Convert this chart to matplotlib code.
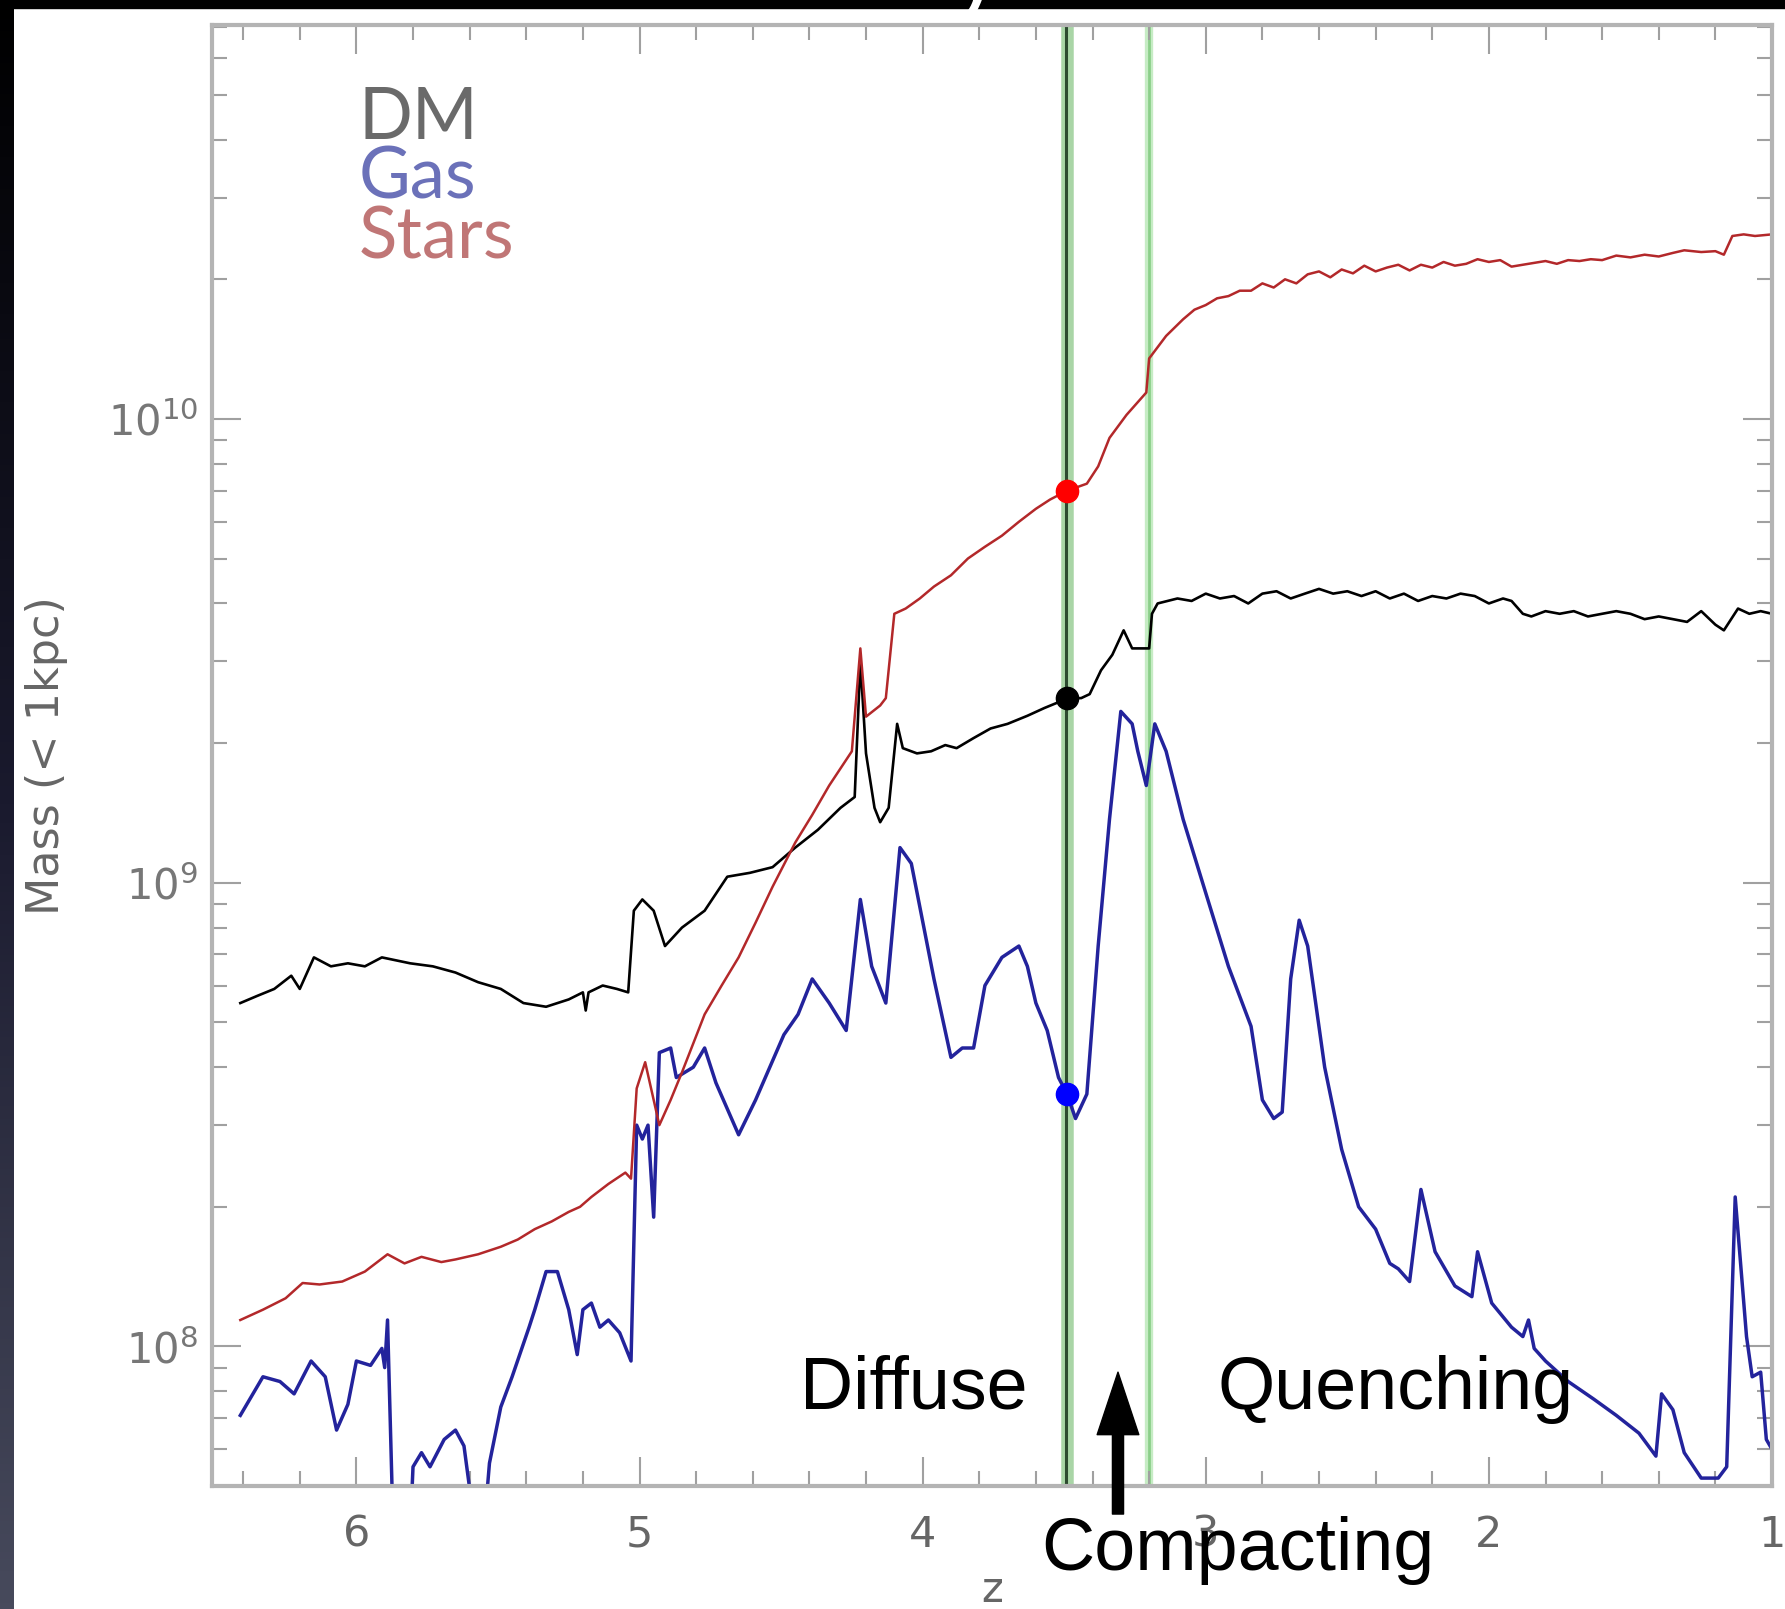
import numpy as np
import matplotlib.pyplot as plt
from matplotlib.colors import LinearSegmentedColormap
from matplotlib.ticker import MultipleLocator, LogLocator, NullFormatter, FixedLocator, FixedFormatter

# Mass inside 1 kpc vs redshift, masses in units of 1e9 Msun
z_dm = [6.41, 6.35, 6.29, 6.23, 6.20, 6.15, 6.09, 6.03, 5.97, 5.91, 5.81, 5.73, 5.65, 5.57,
        5.49, 5.41, 5.33, 5.25, 5.20, 5.19, 5.18, 5.13, 5.08, 5.04, 5.02, 4.99, 4.95, 4.91,
        4.85, 4.77, 4.69, 4.61, 4.53, 4.45, 4.37, 4.29, 4.24, 4.22, 4.20, 4.17, 4.15, 4.12,
        4.09, 4.07, 4.02, 3.97, 3.92, 3.88, 3.82, 3.76, 3.70, 3.63, 3.57, 3.52, 3.49, 3.44,
        3.41, 3.37, 3.33, 3.29, 3.26, 3.20, 3.19, 3.17, 3.10, 3.05, 3.00, 2.95, 2.90, 2.85,
        2.80, 2.75, 2.70, 2.65, 2.60, 2.55, 2.50, 2.45, 2.40, 2.35, 2.30, 2.25, 2.20, 2.15,
        2.10, 2.05, 2.00, 1.95, 1.92, 1.88, 1.85, 1.80, 1.75, 1.70, 1.65, 1.60, 1.55, 1.50,
        1.45, 1.40, 1.35, 1.30, 1.25, 1.20, 1.17, 1.12, 1.08, 1.04, 1.00]
m_dm = [0.55, 0.57, 0.59, 0.63, 0.59, 0.69, 0.66, 0.67, 0.66, 0.69, 0.67, 0.66, 0.64, 0.61,
        0.59, 0.55, 0.54, 0.56, 0.58, 0.53, 0.58, 0.60, 0.59, 0.58, 0.87, 0.92, 0.87, 0.73,
        0.80, 0.87, 1.03, 1.05, 1.08, 1.19, 1.30, 1.45, 1.53, 3.0, 1.9, 1.45, 1.35, 1.45,
        2.2, 1.95, 1.90, 1.92, 1.98, 1.95, 2.05, 2.15, 2.2, 2.29, 2.38, 2.45, 2.50, 2.50,
        2.55, 2.87, 3.1, 3.5, 3.2, 3.2, 3.8, 4.0, 4.1, 4.05, 4.2, 4.1, 4.15, 4.0,
        4.2, 4.25, 4.1, 4.2, 4.3, 4.2, 4.25, 4.15, 4.25, 4.1, 4.2, 4.05, 4.15, 4.1,
        4.2, 4.15, 4.0, 4.1, 4.05, 3.8, 3.75, 3.85, 3.8, 3.85, 3.75, 3.8, 3.85, 3.8,
        3.7, 3.75, 3.7, 3.65, 3.85, 3.6, 3.5, 3.9, 3.8, 3.85, 3.8]

z_stars = [6.41, 6.33, 6.25, 6.19, 6.13, 6.05, 5.97, 5.89, 5.83, 5.77, 5.70, 5.65, 5.57, 5.49,
           5.43, 5.37, 5.31, 5.25, 5.21, 5.17, 5.11, 5.05, 5.03, 5.01, 4.98, 4.95, 4.93, 4.89,
           4.85, 4.77, 4.71, 4.65, 4.59, 4.53, 4.45, 4.39, 4.33, 4.25, 4.22, 4.20, 4.15, 4.13,
           4.10, 4.06, 4.01, 3.96, 3.90, 3.84, 3.78, 3.72, 3.66, 3.60, 3.55, 3.49, 3.42, 3.38,
           3.34, 3.28, 3.21, 3.20, 3.14, 3.08, 3.04, 3.00, 2.96, 2.92, 2.88, 2.84, 2.80, 2.76,
           2.72, 2.68, 2.64, 2.60, 2.56, 2.52, 2.48, 2.44, 2.40, 2.36, 2.32, 2.28, 2.24, 2.20,
           2.16, 2.12, 2.08, 2.04, 2.00, 1.96, 1.92, 1.88, 1.84, 1.80, 1.76, 1.72, 1.68, 1.64,
           1.60, 1.55, 1.50, 1.45, 1.40, 1.35, 1.31, 1.25, 1.20, 1.17, 1.14, 1.10, 1.06, 1.00]
m_stars = [0.114, 0.12, 0.127, 0.137, 0.136, 0.138, 0.145, 0.158, 0.151, 0.156, 0.152, 0.154,
           0.158, 0.164, 0.17, 0.179, 0.186, 0.195, 0.20, 0.21, 0.224, 0.237, 0.23, 0.36, 0.41,
           0.34, 0.30, 0.34, 0.39, 0.52, 0.60, 0.69, 0.82, 0.98, 1.22, 1.40, 1.62, 1.92, 3.2,
           2.28, 2.41, 2.5, 3.8, 3.9, 4.1, 4.35, 4.6, 5.0, 5.3, 5.6, 6.0, 6.4, 6.7, 7.0, 7.25,
           7.9, 9.1, 10.2, 11.4, 13.5, 15.1, 16.4, 17.2, 17.6, 18.2, 18.4, 18.9, 18.9, 19.6,
           19.2, 20.0, 19.6, 20.5, 20.8, 20.2, 21.0, 20.6, 21.4, 20.8, 21.2, 21.5, 20.9, 21.5,
           21.2, 21.8, 21.4, 21.6, 22.1, 21.8, 22.0, 21.3, 21.5, 21.7, 21.9, 21.6, 22.0, 21.9,
           22.1, 22.0, 22.5, 22.3, 22.6, 22.4, 22.8, 23.1, 22.9, 23.0, 22.6, 24.8, 25.0, 24.8,
           25.0]

z_gas = [6.41, 6.33, 6.27, 6.22, 6.16, 6.11, 6.07, 6.03, 6.00, 5.95, 5.91, 5.90, 5.89, 5.87,
         5.81, 5.80, 5.77, 5.74, 5.69, 5.65, 5.62, 5.58, 5.55, 5.53, 5.49, 5.45, 5.39, 5.37,
         5.33, 5.29, 5.25, 5.22, 5.20, 5.17, 5.14, 5.11, 5.07, 5.03, 5.01, 4.99, 4.97, 4.95,
         4.93, 4.89, 4.87, 4.81, 4.77, 4.73, 4.65, 4.59, 4.49, 4.44, 4.39, 4.33, 4.27, 4.22,
         4.18, 4.13, 4.08, 4.04, 3.96, 3.90, 3.86, 3.82, 3.78, 3.72, 3.66, 3.63, 3.60, 3.56,
         3.52, 3.49, 3.46, 3.42, 3.38, 3.34, 3.30, 3.26, 3.24, 3.21, 3.18, 3.14, 3.08, 3.00,
         2.92, 2.84, 2.80, 2.76, 2.73, 2.70, 2.67, 2.64, 2.58, 2.52, 2.46, 2.40, 2.35, 2.32,
         2.28, 2.24, 2.19, 2.12, 2.06, 2.04, 1.99, 1.92, 1.88, 1.86, 1.84, 1.80, 1.72, 1.63,
         1.55, 1.47, 1.41, 1.39, 1.35, 1.31, 1.25, 1.19, 1.16, 1.13, 1.09, 1.07, 1.04, 1.02,
         1.00]
m_gas = [0.071, 0.086, 0.084, 0.079, 0.093, 0.086, 0.066, 0.075, 0.093, 0.091, 0.099, 0.090,
         0.114, 0.040, 0.040, 0.055, 0.059, 0.055, 0.063, 0.066, 0.061, 0.040, 0.040, 0.056,
         0.074, 0.086, 0.110, 0.120, 0.145, 0.145, 0.120, 0.096, 0.120, 0.124, 0.110, 0.114,
         0.107, 0.093, 0.30, 0.28, 0.30, 0.19, 0.43, 0.44, 0.38, 0.40, 0.44, 0.37, 0.286, 0.34,
         0.47, 0.52, 0.62, 0.55, 0.48, 0.92, 0.66, 0.55, 1.19, 1.10, 0.62, 0.42, 0.44, 0.44,
         0.60, 0.69, 0.73, 0.66, 0.55, 0.48, 0.38, 0.35, 0.31, 0.35, 0.73, 1.37, 2.34, 2.20,
         1.92, 1.62, 2.20, 1.92, 1.37, 0.95, 0.66, 0.49, 0.34, 0.31, 0.32, 0.62, 0.83, 0.73,
         0.40, 0.266, 0.200, 0.179, 0.151, 0.147, 0.138, 0.218, 0.160, 0.135, 0.128, 0.160,
         0.124, 0.110, 0.105, 0.114, 0.099, 0.093, 0.084, 0.077, 0.071, 0.065, 0.058, 0.079,
         0.073, 0.059, 0.052, 0.052, 0.055, 0.21, 0.105, 0.086, 0.088, 0.063, 0.060]

# Phase boundaries and the masses marked at the first one
z_diffuse_end = 3.49
z_quench_start = 3.20
marker_m = [7.0, 2.5, 0.35]
marker_c = ['#ff0000', '#000000', '#0000ff']

fig = plt.figure(figsize=(17.85, 16.09), dpi=100)
fig.patch.set_facecolor('white')

# slide background bits: dark strip on the left, black bar on top
strip = fig.add_axes([0, 0, 13 / 1785, 1])
grad = np.linspace(0, 1, 256).reshape(-1, 1)
cm = LinearSegmentedColormap.from_list('slide', ['#000000', '#1a1a2e', '#474a5c'])
strip.imshow(grad, aspect='auto', cmap=cm, extent=[0, 1, 0, 1], origin='upper')
strip.axis('off')
fig.patches.append(plt.Rectangle((0, 1 - 8 / 1609), 1, 8 / 1609, transform=fig.transFigure,
                                 color='black', zorder=5))
fig.text(0.547, 1.0, 'y', color='white', fontsize=75, family='Liberation Sans',
         va='baseline', ha='center', zorder=6)

ax = fig.add_axes([212 / 1785, 1 - 1486 / 1609, 1560 / 1785, 1461 / 1609])

m = 1e9
ax.plot(z_dm, np.array(m_dm) * m, color='black', lw=1.9)
ax.plot(z_gas, np.array(m_gas) * m, color='#23239c', lw=2.5)
ax.plot(z_stars, np.array(m_stars) * m, color='#b3282a', lw=1.8)

ax.axvline(z_diffuse_end, color='#a9d5a6', lw=9, zorder=1)
ax.axvline(z_diffuse_end + 0.005, color='#2d4a30', lw=2.2, zorder=1.5)
ax.axvline(z_quench_start, color='#c6ecc4', lw=6, zorder=1)
ax.axvline(z_quench_start, color='#8ccf8a', lw=2, zorder=1.5)

for mm, c in zip(marker_m, marker_c):
    ax.plot(z_diffuse_end, mm * m, 'o', color=c, ms=16, zorder=4)

ax.set_yscale('log')
ax.set_xlim(6.51, 1.0)
ax.set_ylim(5.0e7, 7.07e10)

ax.xaxis.set_major_locator(MultipleLocator(1))
ax.xaxis.set_minor_locator(MultipleLocator(0.2))
ax.yaxis.set_major_locator(FixedLocator([1e8, 1e9, 1e10]))
ax.yaxis.set_major_formatter(FixedFormatter([r'$10^{8}$', r'$10^{9}$', r'$10^{10}$']))
ax.yaxis.set_minor_locator(LogLocator(base=10, subs=np.arange(2, 10)))
ax.yaxis.set_minor_formatter(NullFormatter())

ax.tick_params(which='both', direction='in', top=True, right=True, color='#a0a0a0')
ax.tick_params(which='major', length=21, width=1.5)
ax.tick_params(which='minor', length=11, width=1.5)
ax.tick_params(axis='x', pad=20, labelsize=31, labelcolor='#666666')
ax.tick_params(axis='y', pad=10, labelsize=30, labelcolor='#777777')
for lab in ax.get_xticklabels():
    lab.set_family('Liberation Sans Narrow')
for s in ax.spines.values():
    s.set_color('#b4b4b4')
    s.set_linewidth(3)

ax.set_ylabel('Mass (< 1kpc)', fontsize=32, color='#666666')
ax.yaxis.set_label_coords(-0.092, 0.5)
ax.set_xlabel('z', fontsize=30, color='#666666')
ax.xaxis.set_label_coords(0.5, -0.057)

# legend as coloured words
for i, (name, col) in enumerate([('DM', '#6a6a6a'), ('Gas', '#6b71b9'), ('Stars', '#c07676')]):
    ax.text(0.094, 0.922 - 0.041 * i, name, transform=ax.transAxes, fontsize=51,
            color=col, family='Lato', va='baseline')

# phase labels
ax.text(4.434, 7.33e7, 'Diffuse', fontsize=53, family='Liberation Sans', va='baseline', zorder=6)
ax.text(2.96, 7.33e7, 'Quenching', fontsize=53, family='Liberation Sans', va='baseline', zorder=6)
ax.text(3.58, 3.29e7, 'Compacting', fontsize=53, family='Liberation Sans', va='baseline',
        clip_on=False, zorder=6)
ax.annotate('', xy=(3.31, 8.8e7), xytext=(3.31, 4.35e7), annotation_clip=False,
            arrowprops=dict(facecolor='black', edgecolor='black', width=8, headwidth=30,
                            headlength=45, shrink=0))

fig.savefig('out.png', dpi=100)
